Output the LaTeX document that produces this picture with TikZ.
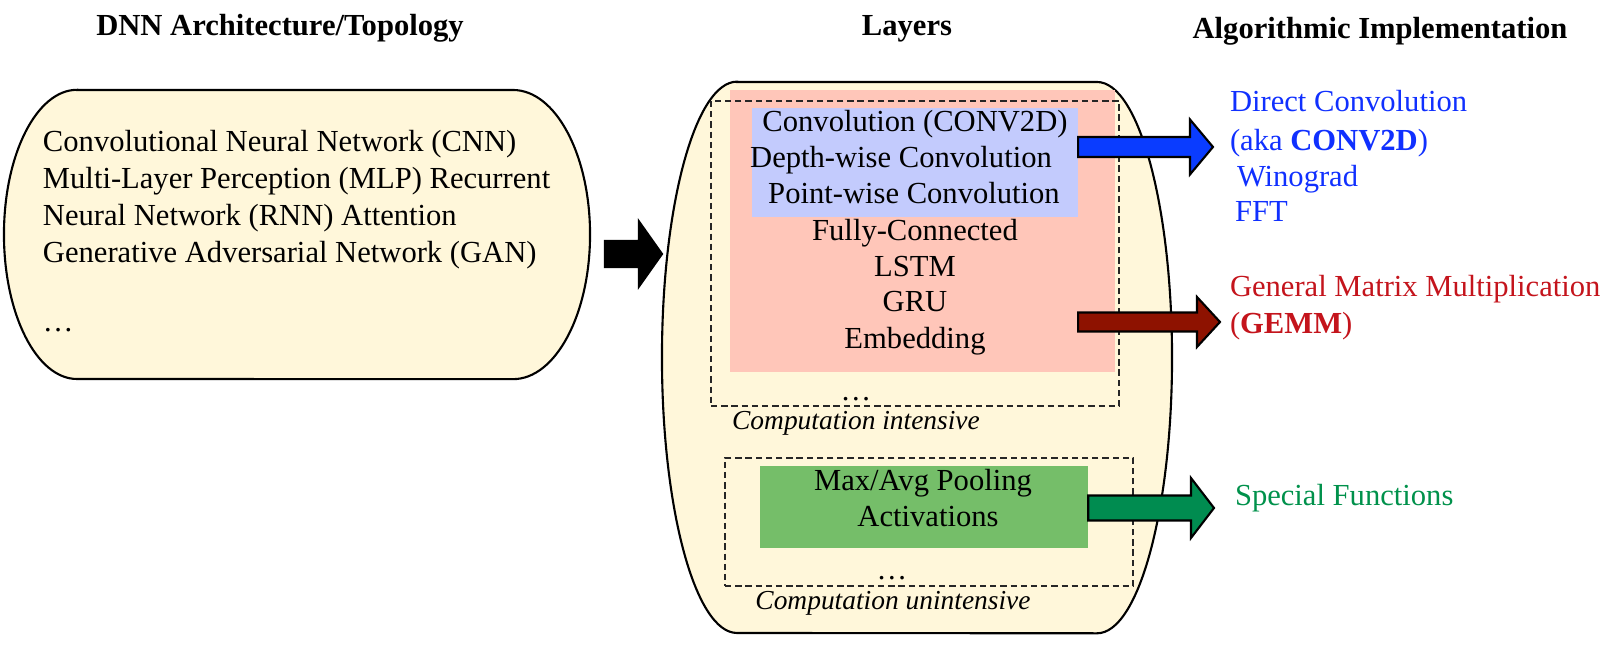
\documentclass[tikz,border=0pt]{standalone}
\usepackage{fontspec}
\setmainfont{Liberation Serif}
\usetikzlibrary{calc}
\definecolor{creamfill}{HTML}{FFF7DA}
\definecolor{densefill}{HTML}{FFC6B9}
\definecolor{convfill}{HTML}{C3CBFD}
\definecolor{poolfill}{HTML}{75BE69}
\definecolor{convtext}{HTML}{1030FF}
\definecolor{gemmtext}{HTML}{C4141C}
\definecolor{specialtext}{HTML}{00914B}
\definecolor{arrowblue}{HTML}{0A3CFF}
\definecolor{arrowred}{HTML}{8E1200}
\definecolor{arrowgreen}{HTML}{008C50}
% block arrow: fill, start, tip, shaft half height, head half height (px)
\newcommand{\fatarrow}[5]{%
  \filldraw[fill=#1, draw=black, line width=0.6pt, line join=miter]
    let \p1=(#2), \p2=(#3) in
    (\x1,\y2+#4*0.01cm) -- (\x2-0.23cm,\y2+#4*0.01cm) -- (\x2-0.23cm,\y2+#5*0.01cm)
    -- (\x2,\y2) -- (\x2-0.23cm,\y2-#5*0.01cm) -- (\x2-0.23cm,\y2-#4*0.01cm)
    -- (\x1,\y2-#4*0.01cm) -- cycle;}

\begin{document}
\begin{tikzpicture}[x=0.01cm,y=0.01cm, font=\fontsize{8.7}{10.4}\selectfont,
  every node/.style={inner sep=0pt, outer sep=0pt},
  layerbox/.style={anchor=south west, draw=none},
  dashbox/.style={anchor=south west, draw=black!85, line width=0.6pt, dash pattern=on 1.8pt off 1.1pt},
  note/.style={font=\fontsize{7.8}{9}\selectfont\itshape},
  head/.style={font=\fontsize{8.7}{10.4}\selectfont\bfseries}]
\useasboundingbox (0,0) rectangle (1620,646);

% headings
\node[head, anchor=mid] (archhead) at (280,619) {DNN Architecture/Topology};
\node[head, anchor=mid] (layerhead) at (907,619) {Layers};
\node[head, anchor=mid] (implhead) at (1380,616) {Algorithmic Implementation};

% architectures
\filldraw[fill=creamfill, line width=0.6pt] (77,556) -- (513,556)
  arc[start angle=90, end angle=-90, x radius=0.77cm, y radius=1.445cm] -- (77,267)
  arc[start angle=270, end angle=90, x radius=0.73cm, y radius=1.445cm] -- cycle;
\node[anchor=mid west] (cnn) at (43,503) {Convolutional Neural Network (CNN)};
\node[anchor=mid west] (mlp) at (43,466) {Multi-Layer Perception (MLP) Recurrent};
\node[anchor=mid west] (rnn) at (43,429) {Neural Network (RNN) Attention};
\node[anchor=mid west] (gan) at (43,392) {Generative Adversarial Network (GAN)};
\node[anchor=mid west] (archdots) at (43,323) {\ldots};

% layers
\filldraw[fill=creamfill, line width=0.6pt] (737,564) -- (1097,564)
  arc[start angle=90, end angle=-90, x radius=0.75cm, y radius=2.755cm] -- (737,13)
  arc[start angle=270, end angle=90, x radius=0.75cm, y radius=2.755cm] -- cycle;
\node[layerbox, fill=densefill, minimum width=3.85cm, minimum height=2.82cm] (densebox) at (730,274) {};
\node[layerbox, fill=convfill, minimum width=3.26cm, minimum height=1.09cm] (convbox) at (752,429) {};
\node[layerbox, fill=poolfill, minimum width=3.28cm, minimum height=0.82cm] (poolbox) at (760,98) {};
\node[dashbox, minimum width=4.08cm, minimum height=3.05cm] (intensive) at (711,240) {};
\node[dashbox, minimum width=4.08cm, minimum height=1.28cm] (unintensive) at (725,60) {};

\node[anchor=mid] (conv) at (915,523) {Convolution (CONV2D)};
\node[anchor=mid] (depthwise) at (901,487) {Depth-wise Convolution};
\node[anchor=mid] (pointwise) at (914,451) {Point-wise Convolution};
\node[anchor=mid] (fc) at (915,414) {Fully-Connected};
\node[anchor=mid] (lstm) at (915,378) {LSTM};
\node[anchor=mid] (gru) at (915,343) {GRU};
\node[anchor=mid] (embed) at (915,306) {Embedding};
\node[anchor=mid] (densedots) at (856,254) {\ldots};
\node[note, anchor=mid] (intnote) at (856,225) {Computation intensive};
\node[anchor=mid] (maxpool) at (923,164) {Max/Avg Pooling};
\node[anchor=mid] (activ) at (928,128) {Activations};
\node[anchor=mid] (pooldots) at (892,75) {\ldots};
\node[note, anchor=mid] (unintnote) at (893,45) {Computation unintensive};

% implementations
\node[anchor=mid west, text=convtext] (direct) at (1230,543) {Direct Convolution};
\node[anchor=mid west, text=convtext] (aka) at (1230,504) {(aka \textbf{CONV2D})};
\node[anchor=mid west, text=convtext] (winograd) at (1237,468) {Winograd};
\node[anchor=mid west, text=convtext] (fft) at (1235,433) {FFT};
\node[anchor=mid west, text=gemmtext] (gemm) at (1230,358) {General Matrix Multiplication};
\node[anchor=mid west, text=gemmtext] (gemmabbr) at (1230,321) {(\textbf{GEMM})};
\node[anchor=mid west, text=specialtext] (special) at (1235,149) {Special Functions};

% arrows
\coordinate (archout) at (605,392);
\coordinate (layerin) at (662,392);
\coordinate (convtip) at (1213,499);
\coordinate (gemmtip) at (1220,324);
\coordinate (specialtip) at (1214,138);
\fatarrow{black}{archout}{layerin}{13}{32.5}
\fatarrow{arrowblue}{convbox.east}{convtip}{10}{27.5}
\fatarrow{arrowred}{convbox.east}{gemmtip}{9.5}{25}
\fatarrow{arrowgreen}{poolbox.east}{specialtip}{12.5}{30}
\end{tikzpicture}
\end{document}
